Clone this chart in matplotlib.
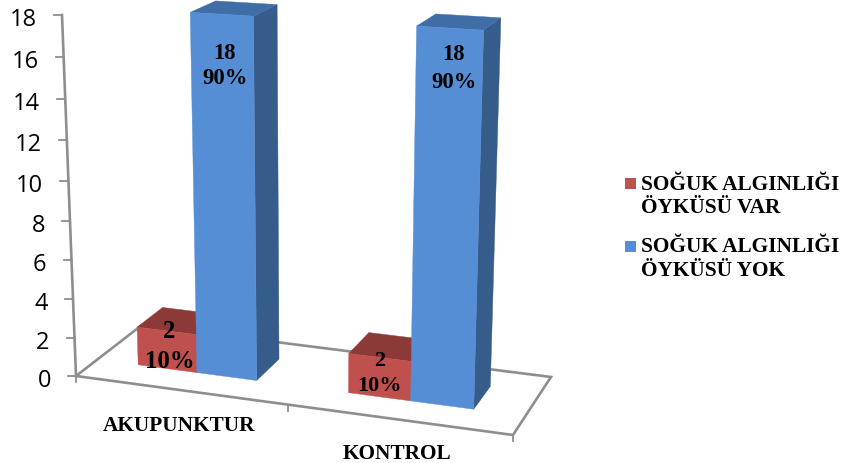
import numpy as np
import matplotlib
matplotlib.use("Agg")
import matplotlib.pyplot as plt
from matplotlib.patches import Rectangle

# Chart data
categories = ["AKUPUNKTUR", "KONTROL"]
series_names = ["SOĞUK ALGINLIĞI\nÖYKÜSÜ VAR", "SOĞUK ALGINLIĞI\nÖYKÜSÜ YOK"]
history_yes = [2, 2]
history_no = [18, 18]
y_ticks = [0, 2, 4, 6, 8, 10, 12, 14, 16, 18]

# Face colours: front, top, side
RED = ("#C0504D", "#8B3A38", "#8B3A38")
BLUE = ("#558ED5", "#3F6EA6", "#365C8C")
AXIS = "#8E8E8E"
SERIF = "Liberation Serif"

Z_MAX = 18.0


def project(u, d, z):
    """Perspective projection of (category position, depth, value) to canvas pixels."""
    s = u / len(categories)
    q = z / Z_MAX
    w = -0.05475 * s + 0.07355 * d + 1 - 0.056 * q
    x = 408.9 * s + 76.44 * d + 76 - 17.47 * q
    y = 35.18 * s - 27.1 * d + 376 - (361.84 + 10.4 * s) * q
    return x / w, y / w


fig = plt.figure(figsize=(8.44, 4.63), dpi=100)
ax = fig.add_axes([0, 0, 1, 1])
ax.set_xlim(0, 844)
ax.set_ylim(463, 0)
ax.axis("off")

# Floor outline
n = len(categories)
floor = [project(*p, 0) for p in [(0, 0), (n, 0), (n, 1), (0, 1), (0, 0)]]
ax.plot(*zip(*floor), color=AXIS, lw=1.9, solid_joinstyle="miter", zorder=1)

# Value axis and its ticks
ax.plot(*zip(project(0, 0, 0), project(0, 0, Z_MAX)), color=AXIS, lw=1.9, zorder=1)
for v in y_ticks:
    tx, ty = project(0, 0, v)
    ax.plot([tx - 8, tx], [ty, ty], color=AXIS, lw=1.3, zorder=1)
    ax.text(tx - 25, ty + 5, str(v), ha="right", va="center", family="Open Sans",
            fontsize=17, color="black")

# Category ticks along the front edge
for u in range(n + 1):
    tx, ty = project(u, 0, 0)
    ax.plot([tx, tx], [ty, ty + 6], color=AXIS, lw=1.3, zorder=1)

CENTER = 0.485
BAR_W = 0.285
D0, D1 = 0.31, 0.71


def box(u0, u1, value, colors, zorder):
    side = [project(u1, D0, 0), project(u1, D1, 0), project(u1, D1, value), project(u1, D0, value)]
    top = [project(u0, D0, value), project(u1, D0, value), project(u1, D1, value), project(u0, D1, value)]
    front = [project(u0, D0, 0), project(u1, D0, 0), project(u1, D0, value), project(u0, D0, value)]
    for pts, col in ((side, colors[2]), (top, colors[1]), (front, colors[0])):
        ax.fill(*zip(*pts), facecolor=col, edgecolor=col, lw=0.3, zorder=zorder)


def bar_label(u, value, share, dy_value, dy_share, size, dx=0):
    x, y = project(u, D0, value)
    ax.text(x + dx, y + dy_value, str(value), ha="center", va="center", family=SERIF,
            weight="bold", fontsize=size, color="black", zorder=10)
    ax.text(x + dx, y + dy_share, f"{share:.0f}%", ha="center", va="center", family=SERIF,
            weight="bold", fontsize=size, color="black", zorder=10)


for i, (yes, no) in enumerate(zip(history_yes, history_no)):
    c = i + CENTER
    box(c - BAR_W, c, yes, RED, 3 + 2 * i)
    box(c, c + BAR_W, no, BLUE, 4 + 2 * i)
    total = yes + no
    red_size = (17.8, 16)[i]
    red_dy = ((1, 31), (4, 29))[i]
    red_dx = (3, 0)[i]
    bar_label(c - BAR_W / 2, yes, 100 * yes / total, red_dy[0], red_dy[1], red_size, red_dx)
    blue_dy = ((39, 64), (26, 54))[i]
    blue_dx = (3, 4)[i]
    bar_label(c + BAR_W / 2, no, 100 * no / total, blue_dy[0], blue_dy[1], 16.3, blue_dx)

    lx, ly = project(i + 0.5, 0, 0)
    ax.text(lx - 2, ly + (36, 34)[i], categories[i], ha="center", va="center",
            family=SERIF, weight="bold", fontsize=15.3, color="black")

# Legend
for name, col, top_y in zip(series_names, (RED[0], BLUE[0]), (178, 241)):
    ax.add_patch(Rectangle((625, top_y), 11, 11, facecolor=col, edgecolor="none"))
    first, second = name.split("\n")
    ax.text(641, top_y + 6.5, first, ha="left", va="center", family=SERIF, weight="bold",
            fontsize=15.4, color="black")
    ax.text(641, top_y + 30, second, ha="left", va="center", family=SERIF, weight="bold",
            fontsize=15.4, color="black")

fig.savefig("out.png", dpi=100, facecolor="white")
